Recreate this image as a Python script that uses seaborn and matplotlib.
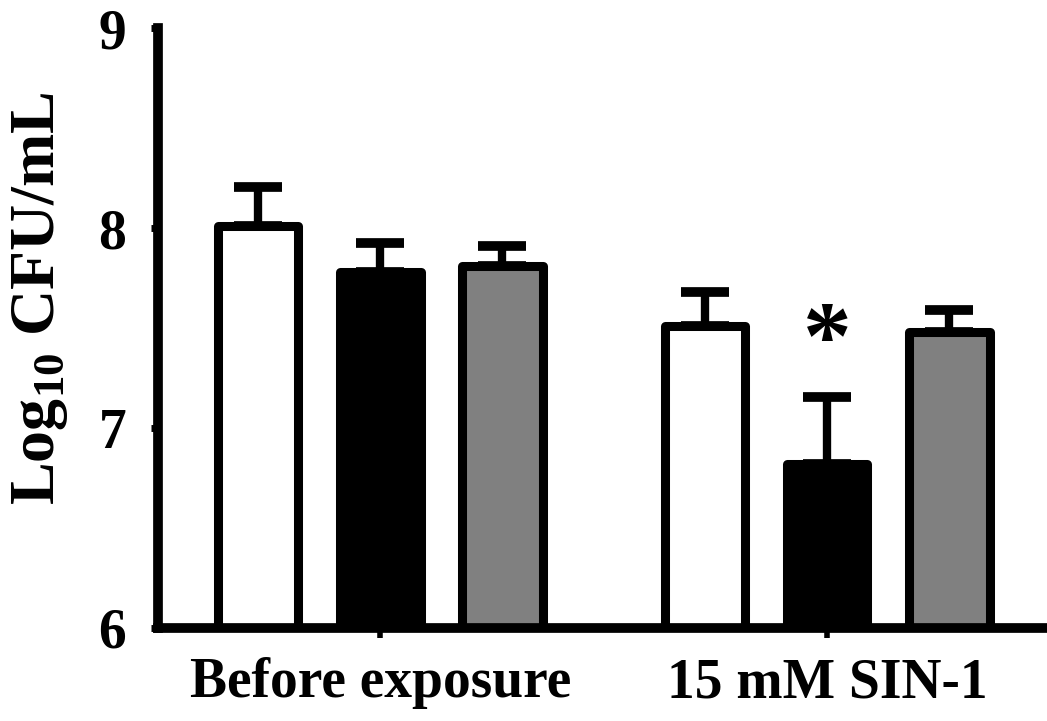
import pandas as pd
import seaborn as sns
import matplotlib.pyplot as plt
import numpy as np

# Values (log10 CFU/mL, mean and upper error)
conditions = ['Before exposure', '15 mM SIN-1']
strains = ['strain A', 'strain B', 'strain C']
bar_colors = ['white', 'black', '#808080']

means_a = [8.01, 7.51]
means_b = [7.78, 6.82]
means_c = [7.81, 7.48]
err_a = [0.195, 0.17]
err_b = [0.145, 0.335]
err_c = [0.10, 0.11]

yticks = [6, 7, 8, 9]

df = pd.DataFrame({
    'condition': conditions * 3,
    'strain': [s for s in strains for _ in conditions],
    'cfu': means_a + means_b + means_c,
    'err': err_a + err_b + err_c,
})

sns.set_style('ticks')
plt.rcParams['font.family'] = ['Liberation Serif', 'DejaVu Serif']
plt.rcParams['font.weight'] = 'bold'
plt.rcParams['mathtext.fontset'] = 'custom'
plt.rcParams['mathtext.rm'] = 'Liberation Serif'
for k in ['text.color', 'axes.labelcolor', 'axes.edgecolor', 'xtick.color', 'ytick.color']:
    plt.rcParams[k] = 'black'

fig = plt.figure(figsize=(10.47, 7.21), dpi=100)
ax = fig.add_axes([0.151, 0.129, 0.849, 0.832])

sns.barplot(data=df, x='condition', y='cfu', hue='strain', order=conditions,
            hue_order=strains, palette=bar_colors, width=0.82, gap=0.34,
            edgecolor='black', linewidth=6.5, errorbar=None, legend=False,
            saturation=1, ax=ax)
for bar in ax.patches:
    bar.set_joinstyle('round')

# upper error bars only
for cont, s in zip(ax.containers, strains):
    sub = df[df['strain'] == s].set_index('condition').loc[conditions]
    xs = [p.get_x() + p.get_width() / 2 for p in cont.patches]
    ax.errorbar(xs, sub['cfu'], yerr=[np.zeros(len(xs)), sub['err']],
                fmt='none', ecolor='black', elinewidth=6, capsize=17,
                capthick=7, zorder=0.5)

# significance mark over the black bar after SIN-1
p = ax.containers[1].patches[1]
ax.text(p.get_x() + p.get_width() / 2, 7.42, '*', ha='center', va='center',
        fontsize=70, fontweight='bold')

ax.set_ylim(6, 9)
ax.set_xlim(-0.497, 1.492)
ax.set_yticks(yticks)
ax.set_xlabel('')
ax.set_ylabel('')
sns.despine(ax=ax)
for side in ['left', 'bottom']:
    ax.spines[side].set_linewidth(7)
ax.tick_params(axis='y', length=5, width=5, pad=18, labelsize=40)
ax.tick_params(axis='x', length=7, width=4, pad=14, labelsize=40)

fig.text(0.038, 0.587, r'Log$_{\mathrm{10}}$ CFU/mL', rotation=90,
         ha='center', va='center', fontsize=46, fontweight='bold')

fig.savefig('out.png', dpi=100)
